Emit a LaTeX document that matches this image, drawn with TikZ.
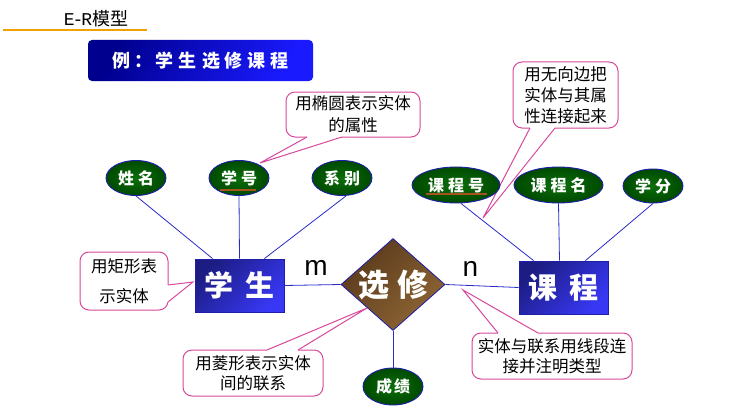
\documentclass[tikz,border=0pt]{standalone}
\usepackage{fontspec}
\setmainfont{Liberation Sans}
\newfontfamily\cjk{Noto Sans CJK SC}
\newfontfamily\monoE{Liberation Mono}
\usetikzlibrary{shapes.geometric}
\definecolor{lineblue}{HTML}{2A2AC8}
\definecolor{edgeblue}{HTML}{1E1EA8}
\definecolor{pinkc}{HTML}{D8489C}
\definecolor{greenin}{HTML}{0B6E0B}
\definecolor{greenout}{HTML}{004A00}
\definecolor{blueA}{HTML}{1C1C82}
\definecolor{blueB}{HTML}{3838F4}
\definecolor{brownA}{HTML}{5A3A1C}
\definecolor{brownB}{HTML}{8E6634}
\definecolor{titleA}{HTML}{00008E}
\definecolor{titleB}{HTML}{1A1AFF}
\definecolor{orangeL}{HTML}{F2A200}
\definecolor{keyc}{HTML}{A8501E}
\begin{document}
\begin{tikzpicture}[x=1pt,y=-1pt,
  attr/.style={ellipse, draw=edgeblue, line width=0.9pt, inner color=greenin, outer color=greenout,
    minimum width=60pt, minimum height=35pt, inner sep=0pt, text=white,
    font=\cjk\bfseries\fontsize{16}{16}\selectfont},
  entity/.style={rectangle, draw=edgeblue, line width=0.8pt, top color=blueA, bottom color=blueB,
    shading angle=45, minimum width=89pt, minimum height=53pt, inner sep=0pt, text=white,
    font=\cjk\bfseries\fontsize{29}{29}\selectfont},
  rel/.style={diamond, draw=edgeblue, line width=0.8pt, top color=brownA, bottom color=brownB,
    shading angle=45, minimum width=104pt, minimum height=92pt, aspect=1.13, inner sep=0pt, text=white,
    font=\cjk\bfseries\fontsize{31}{31}\selectfont},
  callout/.style={rectangle, rounded corners=9pt, draw=pinkc, line width=1pt, fill=white,
    align=center, inner sep=0pt, text=black},
  tailline/.style={draw=pinkc, line width=1pt, line join=miter},
  conn/.style={draw=lineblue, line width=0.8pt},
  card/.style={font=\fontsize{28}{28}\selectfont, inner sep=0pt}
]
\useasboundingbox (0,0) rectangle (744,412);

% heading
\node[inner sep=0pt, font=\fontsize{18}{18}\selectfont] (hd) at (96,19) {{\monoE E\hspace{-2pt}-\hspace{-2pt}R}{\cjk 模型}};
\draw[orangeL, line width=1.2pt] (3,30) -- (147,30);

% title box
\node[rectangle, rounded corners=4pt, top color=titleA, bottom color=titleB, shading angle=60,
  minimum width=225pt, minimum height=41pt, inner sep=0pt, text=white,
  font=\cjk\bfseries\fontsize{18}{18}\selectfont] (tb) at (200.5,60.5)
  {例\hspace{5pt}：\hspace{3pt}学\hspace{5pt}生\hspace{5pt}选\hspace{5pt}修\hspace{5pt}课\hspace{5pt}程};

% callouts
\node[callout, minimum width=88pt, minimum height=58pt, font=\cjk\fontsize{16.5}{30}\selectfont]
  (c1) at (124,281) {用矩形表\\示实体};
\node[callout, minimum width=134pt, minimum height=45pt, font=\cjk\fontsize{16.5}{22}\selectfont]
  (c2) at (353,114.5) {用椭圆表示实体\\的属性};
\node[callout, minimum width=105pt, minimum height=66pt, font=\cjk\fontsize{16.5}{21}\selectfont]
  (c3) at (565.5,95) {用无向边把\\实体与其属\\性连接起来};
\node[callout, minimum width=140pt, minimum height=46pt, font=\cjk\fontsize{16.5}{20}\selectfont]
  (c4) at (253,373) {用菱形表示实体\\间的联系};
\node[callout, minimum width=160pt, minimum height=46pt, font=\cjk\fontsize{16.5}{20}\selectfont]
  (c5) at (552,356) {实体与联系用线段连\\接并注明类型};

% callout tails
\coordinate (t1) at (193,282);
\coordinate (t2) at (260,163);
\coordinate (t3) at (483,218);
\coordinate (t4) at (367,308);
\coordinate (t5) at (463,290);
\fill[white] (165,285) -- (168,285) -- (t1) -- (168,302) -- (165,302) -- cycle;
\draw[tailline] (168,285) -- (t1) -- (168,302);
\fill[white] (307,134) -- (307,137) -- (t2) -- (342,137) -- (342,134) -- cycle;
\draw[tailline] (307,137) -- (t2) -- (342,137);
\fill[white] (530,125) -- (530,128) -- (t3) -- (555,128) -- (555,125) -- cycle;
\draw[tailline] (530,128) -- (t3) -- (555,128);
\fill[white] (267,353) -- (267,350) -- (t4) -- (298,350) -- (298,353) -- cycle;
\draw[tailline] (267,350) -- (t4) -- (298,350);
\fill[white] (498,336) -- (498,333) -- (t5) -- (538,333) -- (538,336) -- cycle;
\draw[tailline] (498,333) -- (t5) -- (538,333);

% entities and relation
\node[entity] (xs) at (239.5,285.5) {学\hspace{12pt}生};
\node[entity] (kc) at (563.5,287.5) {课\hspace{12pt}程};
\node[rel] (xx) at (393,284.5) {选\hspace{8pt}修};

% attributes
\node[attr] (xm) at (136,178) {姓\hspace{4pt}名};
\node[attr] (xh) at (239,178) {学\hspace{4pt}号};
\node[attr] (xb) at (342,178) {系\hspace{4pt}别};
\node[attr, minimum width=88pt, minimum height=36pt] (kh) at (456,185) {课\hspace{4pt}程\hspace{4pt}号};
\node[attr, minimum width=89pt, minimum height=36pt] (km) at (558.5,185) {课\hspace{4pt}程\hspace{4pt}名};
\node[attr, minimum height=34pt] (xf) at (653,186) {学\hspace{4pt}分};
\node[attr, minimum height=37pt] (cj) at (393,386.5) {成\hspace{2pt}绩};

% key underlines
\draw[keyc, line width=1.2pt] (220,190) -- (256,190);
\draw[keyc, line width=1.2pt] (426,194) -- (487,194);

% connectors
\draw[conn] (xm.south) -- ([xshift=18pt]xs.north west);
\draw[conn] (xh.south) -- (xs.north);
\draw[conn] ([xshift=4pt]xb.south) -- ([xshift=-20pt]xs.north east);
\draw[conn] ([xshift=5pt]kh.south) -- ([xshift=15pt]kc.north west);
\draw[conn] (km.south) -- ([xshift=-4pt]kc.north);
\draw[conn] (xf.south) -- ([xshift=-23pt]kc.north east);
\draw[conn] (xs.east) -- (xx.west);
\draw[conn] (xx.east) -- (kc.west);
\draw[conn] (xx.south) -- (cj.north);

% cardinalities
\node[card] (m) at (316,268) {m};
\node[card] (n) at (470.5,269) {n};
\end{tikzpicture}
\end{document}
